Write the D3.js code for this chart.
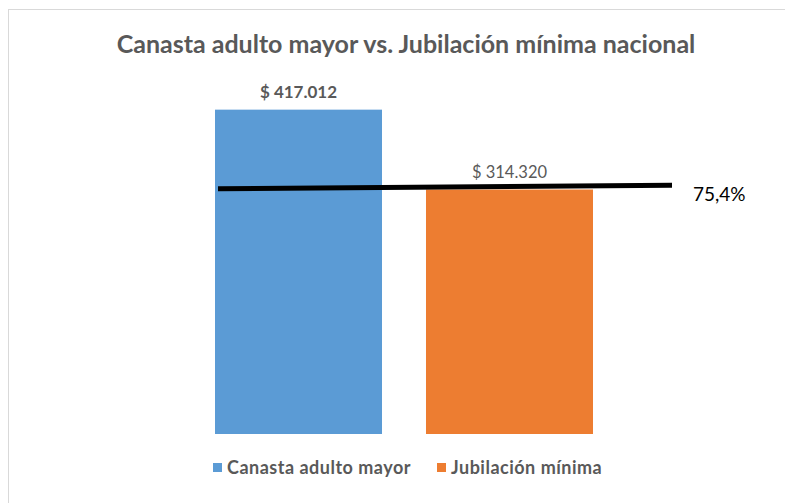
<!DOCTYPE html>
<html>
<head>
<meta charset="utf-8">
<script src="https://cdn.jsdelivr.net/npm/d3@7"></script>
<style>
  html, body { margin: 0; padding: 0; background: #fff; }
  svg { display: block; }
</style>
</head>
<body>
<svg id="chart" width="785" height="503"></svg>
<script>
// ---- data ----
const categories = ["Canasta adulto mayor", "Jubilación mínima"];
const values = [417012, 314320];
const valueLabels = ["$ 417.012", "$ 314.320"];
const colors = ["#5B9BD5", "#ED7D31"];
const title = "Canasta adulto mayor vs. Jubilación mínima nacional";
const ratioLabel = "75,4%";
const ratioLineValues = [315300, 319800]; // hand-drawn line, start/end level
const yMax = 450000;

// ---- layout ----
const svg = d3.select("#chart");
const fontFamily = "Lato, 'Open Sans', sans-serif";

svg.append("rect").attr("x", 8.5).attr("y", 9.5).attr("width", 820).attr("height", 520)
  .attr("fill", "#fff").attr("stroke", "#d9d9d9").attr("stroke-width", 1);

const x = d3.scaleBand().domain(categories).range([215, 593]).paddingInner(0.2085).paddingOuter(0);
const y = d3.scaleLinear().domain([0, yMax]).range([434, 84]);

svg.append("text").attr("x", 406).attr("y", 53).attr("text-anchor", "middle")
  .attr("font-family", fontFamily).attr("font-weight", "bold").attr("font-size", 25)
  .attr("fill", "#595959").text(title);

svg.selectAll("rect.bar").data(categories).enter().append("rect").attr("class", "bar")
  .attr("x", d => x(d)).attr("width", x.bandwidth())
  .attr("y", (d, i) => y(values[i])).attr("height", (d, i) => y(0) - y(values[i]))
  .attr("fill", (d, i) => colors[i]);

svg.selectAll("text.vl").data(categories).enter().append("text").attr("class", "vl")
  .attr("x", d => x(d) + x.bandwidth() / 2).attr("y", (d, i) => y(values[i]) - 12)
  .attr("text-anchor", "middle").attr("font-family", fontFamily)
  .attr("font-weight", (d, i) => i === 0 ? "bold" : "normal")
  .attr("font-size", (d, i) => i === 0 ? 17 : 16.5)
  .attr("fill", "#595959").text((d, i) => valueLabels[i]);

// ratio line
const lx0 = x(categories[0]) + 3;
const lx1 = x(categories[1]) + x.bandwidth() + 79;
svg.append("line").attr("x1", lx0).attr("x2", lx1)
  .attr("y1", y(ratioLineValues[0])).attr("y2", y(ratioLineValues[1]))
  .attr("stroke", "#000").attr("stroke-width", 5);
svg.append("text").attr("x", lx1 + 21).attr("y", y(ratioLineValues[1]) + 16)
  .attr("font-family", fontFamily).attr("font-size", 19).attr("fill", "#000").text(ratioLabel);

// legend
const legendX = [213, 437];
const lg = svg.selectAll("g.lg").data(categories).enter().append("g").attr("class", "lg")
  .attr("transform", (d, i) => `translate(${legendX[i]},463)`);
lg.append("rect").attr("width", 9).attr("height", 9).attr("fill", (d, i) => colors[i]);
lg.append("text").attr("x", 14).attr("y", 10.5).attr("font-family", fontFamily)
  .attr("font-weight", "bold").attr("font-size", 18).attr("letter-spacing", 0.5)
  .attr("fill", "#595959").text(d => d);
</script>
</body>
</html>
